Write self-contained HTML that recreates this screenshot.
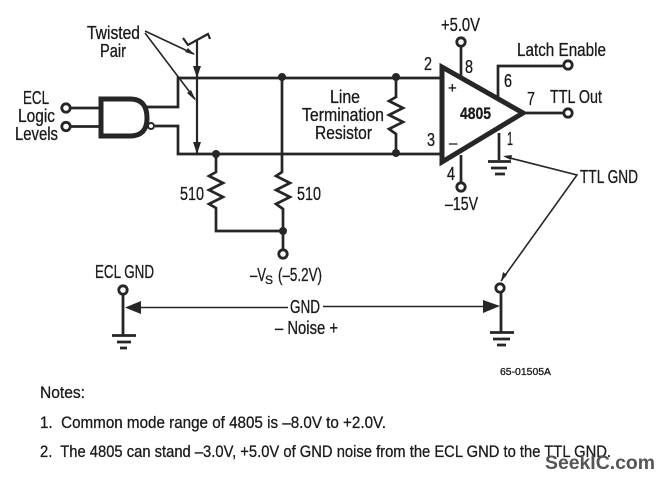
<!DOCTYPE html>
<html><head><meta charset="utf-8"><style>
html,body{margin:0;padding:0;background:#fff}
svg{display:block}
text{font-family:"Liberation Sans",sans-serif;fill:#1a1a1a;font-size:18px;stroke:#1a1a1a;stroke-width:.3}
.w{fill:none;stroke:#262626;stroke-width:2.700}
.t{fill:none;stroke:#262626;stroke-width:1.600}
.o{fill:#fff;stroke:#262626;stroke-width:2.800}
.d{fill:#262626;stroke:none}
</style></head><body>
<svg width="662" height="480" viewBox="0 0 662 480" xmlns="http://www.w3.org/2000/svg">
<rect width="662" height="480" fill="#fff"/>
<!-- wires -->
<path class="w" d="M70 108H99M70 126.500H99M147 107H178V78H440M155 126H178V154H441"/>
<path class="w" d="M282 77V172L276 176L290 183L276 190L290 197L276 204L283 209V231H216V208L209 204L223 197L209 190L223 183L209 176L216 172V154"/>
<path class="w" d="M283 231V250M396 77V97L389 101L403 108L389 115L403 122L389 129L396 134V153"/>
<path class="w" d="M461 46V76M461 155V183M498 98V66H564M524 113H564M499 133V160"/>
<!-- gate -->
<path d="M101 99H130Q147 99 147 118Q147 136 130 136H101Z" fill="#fff" stroke="#262626" stroke-width="5"/>
<circle class="o" cx="151" cy="126" r="3" style="stroke-width:2"/>
<!-- twisted pair -->
<path class="w" d="M197 40V153M183 38L188 45L208 34L210 39" style="stroke-width:2.200"/>
<path class="d" d="M193 66H201L197 78ZM193 142H201L197 154Z"/>
<path class="t" d="M145 31L194 54M145 33L195 99"/>
<path class="d" d="M195 55L185 52L188 48ZM196 101L187 93L191 90Z"/>
<!-- junctions -->
<circle class="d" cx="282" cy="77" r="4"/><circle class="d" cx="216" cy="154" r="4"/>
<circle class="d" cx="396" cy="77" r="4"/><circle class="d" cx="396" cy="153" r="4"/>
<circle class="d" cx="283" cy="231" r="4"/>
<!-- op amp -->
<path d="M442 67L523 113L442 162Z" fill="#fff" stroke="#262626" stroke-width="5"/>
<!-- terminals -->
<circle class="o" cx="66" cy="108" r="4.200"/><circle class="o" cx="66" cy="126.500" r="4.200"/>
<circle class="o" cx="461" cy="42" r="4.200"/><circle class="o" cx="461" cy="187" r="4.200"/>
<circle class="o" cx="568" cy="65" r="4.200"/><circle class="o" cx="568" cy="113" r="4.200"/>
<circle class="o" cx="283" cy="254" r="4.200"/><circle class="o" cx="123" cy="290" r="4.200"/>
<circle class="o" cx="500" cy="288" r="4.200"/>
<!-- grounds -->
<path class="w" d="M488 161.500H511M491 168H507M495 174H505" style="stroke-width:2.800"/>
<path class="w" d="M123 294V335M112 335.500H136M117 342H131M120 348H127" style="stroke-width:2.800"/>
<path class="w" d="M501 292V332M490 332.500H514M493 339H510M497 345H506" style="stroke-width:2.800"/>
<!-- TTL GND leaders -->
<path class="t" d="M506 157L577 175L501 281"/>
<path class="d" d="M503 156L512 155L511 160ZM501 281L503 272L507 275Z"/>
<!-- GND span -->
<path class="t" d="M132 307.500H288M323 306.500H492"/>
<path class="d" d="M125 307.500L141 301V314ZM500 306L483 300V313Z"/>
<!-- text -->
<text x="87" y="39" textLength="53" lengthAdjust="spacingAndGlyphs">Twisted</text>
<text x="100" y="57" textLength="26" lengthAdjust="spacingAndGlyphs">Pair</text>
<text x="23" y="104" textLength="26" lengthAdjust="spacingAndGlyphs">ECL</text>
<text x="18" y="122" textLength="37" lengthAdjust="spacingAndGlyphs">Logic</text>
<text x="15" y="140" textLength="43" lengthAdjust="spacingAndGlyphs">Levels</text>
<text x="330" y="103" textLength="30" lengthAdjust="spacingAndGlyphs">Line</text>
<text x="302" y="121" textLength="82" lengthAdjust="spacingAndGlyphs">Termination</text>
<text x="315" y="139" textLength="57" lengthAdjust="spacingAndGlyphs">Resistor</text>
<text x="180" y="200" textLength="24" lengthAdjust="spacingAndGlyphs">510</text>
<text x="297" y="200" textLength="24" lengthAdjust="spacingAndGlyphs">510</text>
<text x="441" y="31" textLength="39" lengthAdjust="spacingAndGlyphs">+5.0V</text>
<text x="424" y="70" textLength="8" lengthAdjust="spacingAndGlyphs">2</text>
<text x="465" y="73" textLength="8" lengthAdjust="spacingAndGlyphs">8</text>
<text x="504" y="87" textLength="8" lengthAdjust="spacingAndGlyphs">6</text>
<text x="527" y="105" textLength="8" lengthAdjust="spacingAndGlyphs">7</text>
<text x="427" y="146" textLength="8" lengthAdjust="spacingAndGlyphs">3</text>
<text x="447" y="180" textLength="8" lengthAdjust="spacingAndGlyphs">4</text>
<text x="507" y="145" textLength="6" lengthAdjust="spacingAndGlyphs">1</text>
<text x="448" y="93" style="font-size:15px">+</text>
<text x="449" y="148" style="font-size:15px">–</text>
<text x="460" y="119" textLength="31" lengthAdjust="spacingAndGlyphs" style="font-weight:bold;font-size:17px">4805</text>
<text x="517" y="56" textLength="89" lengthAdjust="spacingAndGlyphs">Latch Enable</text>
<text x="550" y="103" textLength="52" lengthAdjust="spacingAndGlyphs">TTL Out</text>
<text x="580" y="183" textLength="58" lengthAdjust="spacingAndGlyphs">TTL GND</text>
<text x="445" y="210" textLength="33" lengthAdjust="spacingAndGlyphs">–15V</text>
<text x="95" y="278" textLength="59" lengthAdjust="spacingAndGlyphs">ECL GND</text>
<text x="250" y="281" textLength="16" lengthAdjust="spacingAndGlyphs">–V</text>
<text x="265" y="284" style="font-size:12px">S</text>
<text x="278" y="281" textLength="44" lengthAdjust="spacingAndGlyphs">(–5.2V)</text>
<text x="290" y="313" textLength="30" lengthAdjust="spacingAndGlyphs">GND</text>
<text x="275" y="334" textLength="63" lengthAdjust="spacingAndGlyphs">– Noise +</text>
<text x="500" y="375" textLength="51" lengthAdjust="spacingAndGlyphs" style="font-size:10px">65-01505A</text>
<text x="40" y="398" textLength="45" lengthAdjust="spacingAndGlyphs" style="font-size:17px">Notes:</text>
<text x="40" y="428" textLength="346" lengthAdjust="spacingAndGlyphs" style="font-size:17px">1.&#160; Common mode range of 4805 is –8.0V to +2.0V.</text>
<text x="40" y="457" textLength="571" lengthAdjust="spacingAndGlyphs" style="font-size:17px">2.&#160; The 4805 can stand –3.0V, +5.0V of GND noise from the ECL GND to the TTL GND.</text>
<text x="545" y="469" textLength="110" lengthAdjust="spacingAndGlyphs" style="font-size:19px;font-weight:bold;fill:#555;stroke:none">SeekIC.com</text>
</svg>
</body></html>
